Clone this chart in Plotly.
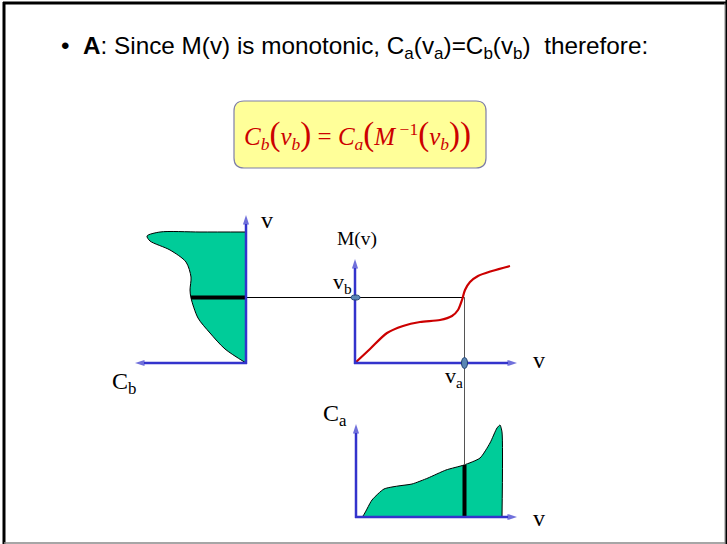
import plotly.graph_objects as go

# ---- data (curve samples, in slide pixel units) ----
cb_x = [246, 200, 160, 147, 150, 170, 186, 191, 190, 191, 198, 210, 225, 246]
cb_y = [232, 232, 232, 236, 241, 250, 262, 277, 290, 298, 318, 333, 349, 363]

m_x = [355, 370, 387, 403, 420, 440, 452, 458, 462, 465, 470, 478, 492, 510]
m_y = [363, 349, 333, 326, 322, 320, 316, 310, 300, 290, 282, 276, 271, 266]

ca_x = [356, 362, 372, 384, 398, 412, 428, 446, 464, 480, 490, 497, 500, 502, 502]
ca_y = [517, 517, 500, 489, 486, 484, 478, 470, 465, 458, 443, 428, 425, 432, 517]

vb_level = 297.5
va_pos = 464.5
cb_bar_left = 191
ca_bar_top = 465

GREEN = "#00CC99"
BLUE = "#3333CC"
RED = "#CC0000"
SERIF = "Liberation Serif"
SANS = "Liberation Sans"

fig = go.Figure()

# filled shapes
fig.add_trace(go.Scatter(x=cb_x, y=cb_y, mode="lines", fill="toself", fillcolor=GREEN,
                         line=dict(color="black", width=1, shape="spline", smoothing=0.8),
                         hoverinfo="skip"))
fig.add_trace(go.Scatter(x=ca_x, y=ca_y, mode="lines", fill="toself", fillcolor=GREEN,
                         line=dict(color="black", width=1, shape="spline", smoothing=0.6),
                         hoverinfo="skip"))

# thin connector lines
fig.add_trace(go.Scatter(x=[246, va_pos], y=[vb_level, vb_level], mode="lines",
                         line=dict(color="black", width=1), hoverinfo="skip"))
fig.add_trace(go.Scatter(x=[va_pos, va_pos], y=[vb_level, 518], mode="lines",
                         line=dict(color="#555555", width=1), hoverinfo="skip"))

# thick bars
fig.add_trace(go.Scatter(x=[cb_bar_left, 246], y=[vb_level, vb_level], mode="lines",
                         line=dict(color="black", width=4), hoverinfo="skip"))
fig.add_trace(go.Scatter(x=[va_pos, va_pos], y=[ca_bar_top, 518], mode="lines",
                         line=dict(color="black", width=4), hoverinfo="skip"))

# M(v) curve
fig.add_trace(go.Scatter(x=m_x, y=m_y, mode="lines",
                         line=dict(color=RED, width=2.2, shape="spline", smoothing=0.8),
                         hoverinfo="skip"))

# axes with arrowheads
def arrow(x0, y0, x1, y1):
    fig.add_trace(go.Scatter(x=[x0, x1], y=[y0, y1], mode="lines+markers",
                             line=dict(color=BLUE, width=2.5),
                             marker=dict(symbol="arrow", size=[0, 10], angleref="previous",
                                         color=BLUE, line=dict(width=0)),
                             hoverinfo="skip"))

arrow(246, 364, 246, 215)
arrow(247, 363, 135, 363)
arrow(355, 364, 355, 259)
arrow(354, 363, 517, 363)
arrow(356, 518, 356, 424)
arrow(355, 517, 517, 517)

# markers
fig.add_shape(type="circle", x0=351, x1=360, y0=295, y1=300, xref="x", yref="y",
              fillcolor="#5B87B5", line=dict(color="#1F3F6F", width=1))
fig.add_shape(type="circle", x0=461.5, x1=467.5, y0=357.5, y1=368.5, xref="x", yref="y",
              fillcolor="#5B87B5", line=dict(color="#1F3F6F", width=1))

# formula box
bx0, bx1, by0, by1, r = 234, 486, 101, 168, 10
path = (f"M {bx0+r},{by0} L {bx1-r},{by0} Q {bx1},{by0} {bx1},{by0+r} "
        f"L {bx1},{by1-r} Q {bx1},{by1} {bx1-r},{by1} L {bx0+r},{by1} "
        f"Q {bx0},{by1} {bx0},{by1-r} L {bx0},{by0+r} Q {bx0},{by0} {bx0+r},{by0} Z")
fig.add_shape(type="path", path=path, xref="x", yref="y", fillcolor="#FFFF99",
              line=dict(color="#7F7FA8", width=1.2), layer="below")

big = '<span style="font-size:33px">'
formula = (f"<i>C<sub>b</sub></i>{big}(</span><i>v<sub>b</sub></i>{big})</span> = "
           f"<i>C<sub>a</sub></i>{big}(</span><i>M</i><sup> −1</sup>{big}(</span>"
           f"<i>v<sub>b</sub></i>{big}))</span>")
fig.add_annotation(x=357, y=135, xref="x", yref="y", text=formula, showarrow=False,
                   font=dict(family=SERIF, size=25, color=RED))

# bullet text
fig.add_annotation(x=59, y=47, xref="x", yref="y", xanchor="left", showarrow=False,
                   text="•  <b>A</b>: Since M(v) is monotonic, C<sub>a</sub>(v<sub>a</sub>)=C<sub>b</sub>(v<sub>b</sub>)  therefore:",
                   font=dict(family=SANS, size=24.3, color="black"))

# labels
def label(x, y, t, size=24):
    fig.add_annotation(x=x, y=y, xref="x", yref="y", text=t, showarrow=False,
                       font=dict(family=SERIF, size=size, color="black"))

label(267, 220, "v")
label(124, 383, "C<sub>b</sub>")
label(357, 239, "M(v)", 19.5)
label(342, 283, "v<sub>b</sub>", 22)
label(454, 377, "v<sub>a</sub>", 22)
label(539, 360, "v")
label(335, 415, "C<sub>a</sub>")
label(539, 518, "v")

# slide border
fig.add_shape(type="line", x0=4, x1=4, y0=2, y1=544, xref="x", yref="y", line=dict(color="black", width=3))
fig.add_shape(type="line", x0=3, x1=727, y0=3, y1=3, xref="x", yref="y", line=dict(color="black", width=3))
fig.add_shape(type="line", x0=725, x1=725, y0=3, y1=544, xref="x", yref="y", line=dict(color="#888888", width=1))
fig.add_shape(type="line", x0=726.5, x1=726.5, y0=0, y1=544, xref="x", yref="y", line=dict(color="black", width=2))
fig.add_shape(type="line", x0=4, x1=725, y0=543, y1=543, xref="x", yref="y", line=dict(color="#888888", width=1.5))

fig.update_layout(width=727, height=544, margin=dict(l=0, r=0, t=0, b=0),
                  paper_bgcolor="white", plot_bgcolor="white", showlegend=False,
                  xaxis=dict(range=[0, 727], visible=False, fixedrange=True),
                  yaxis=dict(range=[544, 0], visible=False, fixedrange=True))

fig.write_html("out.html", config={"displayModeBar": False},
               post_script="document.body.style.margin='0';document.body.style.overflow='hidden';")
